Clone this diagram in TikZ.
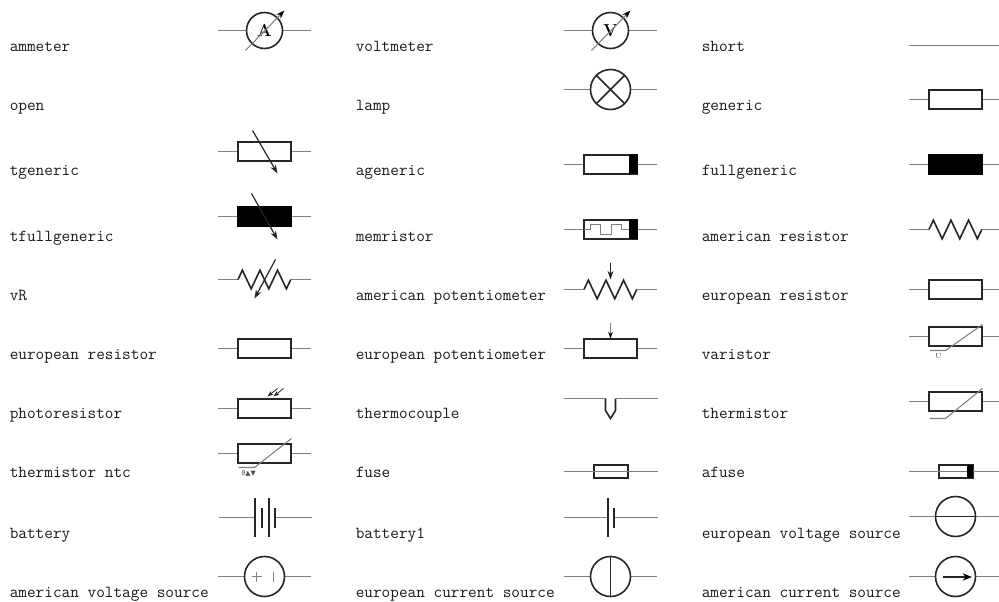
\documentclass[tikz,border=0pt]{standalone}
\usepackage{fontspec}
\usetikzlibrary{arrows.meta}
\newfontfamily\symfont{DejaVu Sans}
\definecolor{leadc}{gray}{0.5}
\definecolor{inkc}{gray}{0.15}
\tikzset{
  x=0.75pt,y=-0.75pt,
  lab/.style={anchor=base west,inner sep=0pt,xshift=-0.75pt,yshift=-0.75pt,font=\fontsize{12.6}{14}\selectfont\ttfamily,text=black!90},
  wire/.style={draw=leadc,line width=0.8pt},
  body/.style={draw=inkc,line width=1.2pt},
  bar/.style={draw=inkc,line width=1.2pt,shift={(0.375pt,-0.375pt)}},
  thin ink/.style={draw=inkc,line width=0.9pt},
  tip/.style={-{Stealth[length=6.5pt,width=4.5pt]}},
  smalltip/.style={-{Stealth[length=4.5pt,width=3.2pt]}},
  blacktip/.style={-{Stealth[length=6.5pt,width=4.5pt,black]}}
}
\newcommand{\leads}[4]{% name, x, y, half width of body
  \coordinate (#1) at (#2,#3);
  \draw[wire] ([xshift=-34.9pt]#1) -- ([xshift=-#4*0.75pt]#1);
  \draw[wire] ([xshift=#4*0.75pt]#1) -- ([xshift=34.9pt]#1);
}
\newcommand{\recsym}[4][]{% opts, name, x, y
  \leads{#2}{#3}{#4}{26.5}
  \draw[body,#1] ([shift={(-19.9pt,-7.2pt)}]#2) rectangle ([shift={(19.9pt,7.2pt)}]#2);
}
\newcommand{\circsym}[3]{% name, x, y
  \leads{#1}{#2}{#3}{20}
  \draw[body] (#1) circle (15pt);
}
\newcommand{\metersym}[3]{% name, x, y
  \leads{#1}{#2}{#3}{18}
  \draw[body] (#1) circle (13.5pt);
}
\newcommand{\zig}[1]{% zigzag at coordinate
  \draw[body,line join=miter] ([xshift=-19.9pt]#1)
    -- ++(3.3pt,7pt) -- ++(6.6pt,-14pt) -- ++(6.6pt,14pt) -- ++(6.6pt,-14pt)
    -- ++(6.6pt,14pt) -- ++(6.6pt,-14pt) -- ++(3.3pt,7pt);
}
\begin{document}
\begin{tikzpicture}
\useasboundingbox (-0.5,-0.5) rectangle (998.5,601.5);
% labels
\foreach \n/\tx/\xx/\yy in {
 la/ammeter/10/50, lb/open/10/109, lc/tgeneric/10/174, ld/tfullgeneric/10/240, le/vR/10/299,
 lf/european resistor/10/358, lg/photoresistor/10/417, lh/thermistor ntc/10/476, li/battery/10/537, lj/american voltage source/10/596,
 ma/voltmeter/356/50, mb/lamp/356/109, mc/ageneric/356/174, md/memristor/356/240, me/american potentiometer/356/299,
 mf/european potentiometer/356/358, mg/thermocouple/356/417, mh/fuse/356/476, mi/battery1/356/537, mj/european current source/356/596,
 ra/short/702/50, rb/generic/702/109, rc/fullgeneric/702/174, rd/american resistor/702/240, re/european resistor/702/299,
 rf/varistor/702/358, rg/thermistor/702/417, rh/afuse/702/476, ri/european voltage source/702/537, rj/american current source/702/596}
 {\node[lab] (\n) at (\xx,\yy) {\tx};}
% ammeter, voltmeter
\metersym{am}{264}{30}
\node[inner sep=0pt,font=\fontsize{13}{14}\selectfont\bfseries] (amt) at (am) {A};
\draw[wire,blacktip] (245,50) -- (284,10);
\metersym{vm}{610}{30}
\node[inner sep=0pt,font=\fontsize{13}{14}\selectfont\bfseries] (vmt) at (vm) {V};
\draw[wire,blacktip] (591,50) -- (630,10);
% lamp
\circsym{lamp}{610}{89}
\draw[body] ([shift={(-10.6pt,-10.6pt)}]lamp) -- ([shift={(10.6pt,10.6pt)}]lamp);
\draw[body] ([shift={(-10.6pt,10.6pt)}]lamp) -- ([shift={(10.6pt,-10.6pt)}]lamp);
% short
\coordinate (sa) at (908,45); \coordinate (sb) at (1000,45);
\draw[wire] (sa) -- (sb);
% generic family
\recsym{gen}{955}{99}
\recsym{tg}{264}{151}
\draw[thin ink,tip] (252,130) -- (277,173);
\recsym[fill=black,draw=black]{tf}{264}{216}
\draw[thin ink,tip] (251,193) -- (277,239);
\recsym{ag}{610}{164}
\fill[black] (628,154) rectangle (637,174);
\recsym[fill=black,draw=black]{fg}{955}{164}
\recsym{mem}{610}{229}
\draw[wire] (583,229) -- (590,229) -- (590,224) -- (600,224) -- (600,234) -- (611,234) -- (611,224) -- (621,224) -- (621,229) -- (628,229);
\fill[black] (628,219) rectangle (637,239);
% zigzags
\leads{vr}{264}{279}{26.5}\zig{vr}
\draw[thin ink,tip] (275,259) -- (254,298);
\leads{apot}{610}{289}{26.5}\zig{apot}
\draw[thin ink,tip] (610,262) -- (610,279);
\leads{ares}{955}{229}{26.5}\zig{ares}
% resistors
\recsym{ereso}{955}{289}
\recsym{eres}{264}{348}
\recsym{epot}{610}{348}
\draw[wire,-{Stealth[length=5pt,width=3.5pt,black]}] (610,322) -- (610,338);
\recsym{var}{955}{336}
\draw[wire] (929,350) -- (945,350) -- (982,324);
\node[inner sep=0pt,font=\fontsize{5.5}{6}\selectfont,text=black!70] (varu) at (938,356) {U};
\recsym{photo}{264}{408}
\draw[thin ink,smalltip,line width=0.6pt] (277,388) -- (267,396);
\draw[thin ink,smalltip,line width=0.6pt] (283,388) -- (273,396);
\recsym{ther}{955}{401}
\draw[wire] (929,418) -- (945,418) -- (982,388);
\recsym{ntc}{264}{453}
\draw[wire] (238,467) -- (254,467) -- (291,438);
\node[inner sep=0pt,font=\fontsize{5}{6}\selectfont\symfont,text=black!70] (ntcu) at (248,473) {ϑ▲▼};
% thermocouple
\coordinate (tca) at (563,398); \coordinate (tcb) at (605,398);
\coordinate (tcc) at (615,398); \coordinate (tcd) at (657,398);
\draw[wire] (tca) -- (tcb); \draw[wire] (tcc) -- (tcd);
\draw[body] (tcb) -- (605,410) -- (610,418) -- (615,410) -- (tcc);
% fuses
\coordinate (fu) at (610,471);
\draw[bar] (593,464) rectangle (627,477);
\draw[wire] (563,471) -- (657,471);
\coordinate (afu) at (955,471);
\draw[bar] (938,464) rectangle (972,477);
\draw[wire] (908,471) -- (1000,471);
\fill[black] (966,464) rectangle (972,477);
% batteries
\coordinate (ba) at (264,517);
\draw[wire] (218,517) -- (254,517); \draw[wire] (274,517) -- (311,517);
\draw[bar] (254,497) -- (254,536);
\draw[bar] (261,507) -- (261,527);
\draw[bar] (268,497) -- (268,536);
\draw[bar] (274,507) -- (274,527);
\coordinate (bb) at (610,517);
\draw[wire] (563,517) -- (607,517); \draw[wire] (613,517) -- (657,517);
\draw[bar] (607,497) -- (607,536);
\draw[bar] (613,507) -- (613,527);
% sources
\circsym{ev}{955}{516}
\draw[bar] ([xshift=-15pt]ev) -- ([xshift=15pt]ev);
\circsym{av}{264}{576}
\draw[wire] (251,576) -- (261,576); \draw[wire] (256,571) -- (256,581);
\draw[wire] (273,571) -- (273,581);
\circsym{ec}{610}{576}
\draw[bar] ([yshift=-15pt]ec) -- ([yshift=15pt]ec);
\circsym{ac}{955}{576}
\draw[bar,-{Stealth[length=7pt,width=5.5pt,black]}] (942,576) -- (971,576);
\end{tikzpicture}
\end{document}
